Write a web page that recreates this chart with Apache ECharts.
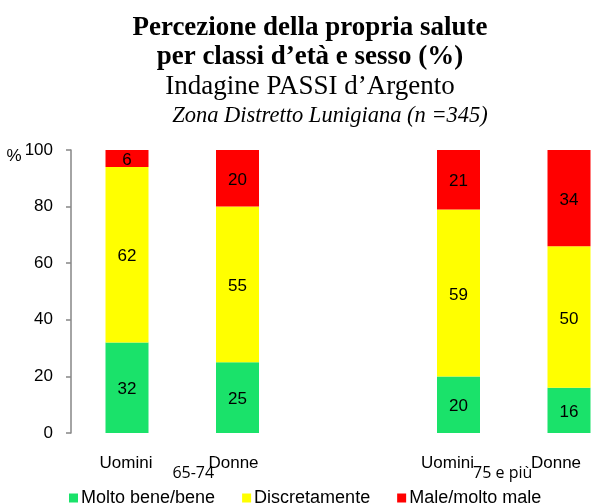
<!DOCTYPE html>
<html>
<head>
<meta charset="utf-8">
<script src="https://cdn.jsdelivr.net/npm/echarts@6/dist/echarts.min.js"></script>
<style>html,body{margin:0;padding:0;background:#fff;}#c{width:598px;height:504px;}</style>
</head>
<body>
<div id="c"></div>
<script>
const categories = ['Uomini', 'Donne', '', 'Uomini', 'Donne'];
const groupNames = ['65-74', '75 e più'];
const seriesNames = ['Molto bene/bene', 'Discretamente', 'Male/molto male'];
const molto = [32, 25, null, 20, 16];
const discreta = [62, 55, null, 59, 50];
const male = [6, 20, null, 21, 34];
const yTicks = [0, 20, 40, 60, 80, 100];

// styling
const colors = ['#1AE26A', '#FFFF00', '#FF0000'];
const labelShiftPad = [2, 8, 0, 22, 26];      // right padding to nudge category labels left
const groupSlots = 41;                          // fine label axis, step 0.1 category
const groupSlotIdx = [6, 34];
const groupLabelSlots = Array.from({ length: groupSlots }, () => '');
groupSlotIdx.forEach((s, i) => { groupLabelSlots[s] = groupNames[i]; });

const chart = echarts.init(document.getElementById('c'));
const font = '"Liberation Sans", Arial, sans-serif';
const serif = '"Liberation Serif", "Times New Roman", serif';
function mk(name, data, color) {
  return {
    name, type: 'bar', stack: 'tot', data, barWidth: 43, clip: false,
    itemStyle: { color },
    label: { show: true, position: 'inside', offset: [0, 2], color: '#000', fontSize: 17, fontFamily: font,
      formatter: p => p.value == null ? '' : p.value }
  };
}
chart.setOption({
  animation: false,
  title: {
    left: 305, top: 8, textAlign: 'center',
    text: '{b|Percezione della propria salute}\n{b|per classi d’età e sesso (%)}\n{r|Indagine PASSI d’Argento}\n{i|Zona Distretto Lunigiana (n =345)}',
    textStyle: {
      fontWeight: 'normal',
      rich: {
        b: { fontFamily: serif, fontWeight: 'bold', fontSize: 27, lineHeight: 29.5, color: '#000' },
        r: { fontFamily: serif, fontWeight: 'normal', fontSize: 27, lineHeight: 29.5, color: '#000' },
        i: { fontFamily: serif, fontWeight: 'normal', fontStyle: 'italic', fontSize: 22.5, lineHeight: 29.5, color: '#000', padding: [0, 0, 0, 40] }
      }
    }
  },
  legend: {
    left: 64, top: 484, itemWidth: 9, itemHeight: 9, itemGap: 27, icon: 'rect',
    textStyle: { fontSize: 18, fontFamily: font, color: '#000', padding: [0, 0, 0, -2] },
    data: seriesNames
  },
  grid: { left: 127, right: 29, top: 150, bottom: 71 },
  xAxis: [{
    type: 'category', boundaryGap: false,
    data: categories.map((c, i) => ({ value: c, textStyle: { padding: [0, labelShiftPad[i], 0, 0] } })),
    axisLine: { show: false }, axisTick: { show: false },
    axisLabel: { interval: 0, margin: 22, fontSize: 17, fontFamily: font, color: '#000' }
  }, {
    type: 'category', data: groupLabelSlots, boundaryGap: false, position: 'bottom', offset: 0,
    axisLine: { show: false }, axisTick: { show: false },
    axisLabel: { interval: 0, margin: 32, fontSize: 16, fontFamily: '"Open Sans", sans-serif', color: '#000' }
  }],
  yAxis: {
    type: 'value', min: yTicks[0], max: yTicks[yTicks.length - 1], interval: 20, offset: 56,
    axisLine: { show: true, lineStyle: { color: '#868686', width: 1.5 } },
    axisTick: { show: true, length: 5, lineStyle: { color: '#868686', width: 1.5 } },
    splitLine: { show: false },
    axisLabel: { margin: 18, fontSize: 17, fontFamily: font, color: '#000',
      formatter: v => v === 100 ? '{p|%}' + v : v,
      rich: { p: { fontSize: 17, fontFamily: font, color: '#000', padding: [12, 3, 0, 0] } } }
  },
  series: [mk(seriesNames[0], molto, colors[0]), mk(seriesNames[1], discreta, colors[1]), mk(seriesNames[2], male, colors[2])]
});
</script>
</body>
</html>
